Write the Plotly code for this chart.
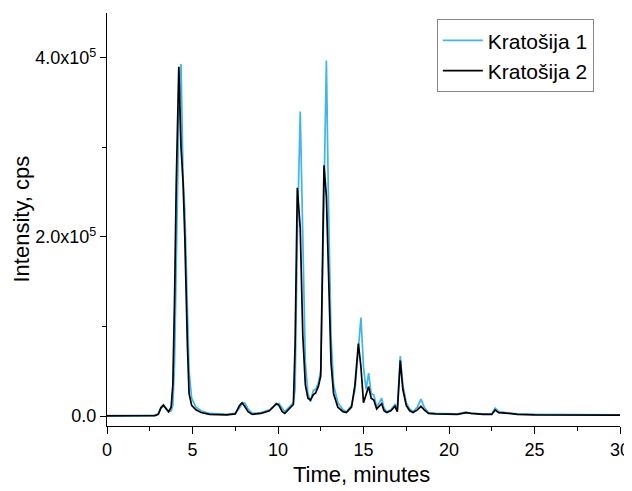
import plotly.graph_objects as go

time_min = [0, 1.0, 2.0, 2.8, 3.0, 3.15, 3.3, 3.45, 3.6, 3.75, 3.85, 3.95, 4.05, 4.2, 4.33,
            4.45, 4.55, 4.7, 4.8, 4.95, 5.2, 5.5, 6.0, 7.0, 7.5, 7.75, 7.9, 8.05, 8.25, 8.5,
            9.0, 9.5, 9.9, 10.05, 10.25, 10.4, 10.6, 10.9, 11.0, 11.13, 11.3, 11.45, 11.6,
            11.75, 11.9, 12.07, 12.2, 12.36, 12.5, 12.6, 12.69, 12.83, 12.95, 13.1, 13.25,
            13.5, 13.8, 14.0, 14.3, 14.5, 14.7, 14.85, 15.0, 15.15, 15.3, 15.45, 15.6, 15.77,
            15.95, 16.06, 16.2, 16.36, 16.6, 16.84, 16.98, 17.15, 17.3, 17.5, 17.7, 17.9,
            18.15, 18.36, 18.55, 18.8, 19.2, 20.0, 20.5, 21.0, 21.3, 22.0, 22.5, 22.7, 22.9,
            23.5, 24.0, 25.0, 26.0, 27.0, 28.0, 29.0, 30.0]

kratosija_1 = [500, 400, 600, 800, 3000, 10000, 13000, 9000, 5000, 6000, 12000, 60000, 170000,
               335000, 393000, 265000, 230000, 130000, 50000, 20000, 10000, 6000, 3000, 2000,
               3000, 9000, 14000, 15000, 8000, 3000, 4000, 7000, 13000, 14000, 8000, 5000,
               9000, 15000, 30000, 200000, 340000, 180000, 60000, 25000, 16000, 29000, 30000,
               37000, 51000, 150000, 260000, 397000, 240000, 90000, 35000, 15000, 7000, 5000,
               12000, 29000, 75000, 110000, 55000, 30000, 48000, 25000, 24000, 10000, 16000,
               20000, 9000, 5000, 7000, 13000, 9000, 67000, 35000, 15000, 8000, 5000, 10000,
               19000, 10000, 4000, 3000, 2500, 2500, 4500, 3000, 2500, 2500, 9000, 5000, 3500,
               2500, 2000, 2000, 1800, 2000, 1800, 1500]

kratosija_2 = [300, 200, 400, 600, 2000, 9000, 12000, 8000, 5000, 10000, 35000, 130000, 260000,
               390000, 300000, 260000, 200000, 80000, 25000, 12000, 7000, 4000, 2000, 1500,
               2500, 12000, 15000, 11000, 5000, 2000, 3000, 6000, 14000, 12000, 5000, 3000,
               7000, 13000, 80000, 255000, 210000, 90000, 35000, 20000, 18000, 24000, 26000,
               33000, 45000, 200000, 280000, 245000, 160000, 60000, 25000, 10000, 5000, 4000,
               10000, 35000, 81000, 55000, 15000, 25000, 33000, 20000, 18000, 8000, 12000,
               14000, 6000, 4000, 6000, 11000, 5000, 62000, 30000, 12000, 6000, 4000, 7000,
               11000, 7000, 3000, 2500, 2000, 2000, 4000, 3000, 2000, 2000, 7000, 4000, 3000,
               2000, 1500, 1500, 1500, 1500, 1200, 1200]

series_names = ["Kratošija 1", "Kratošija 2"]
series_colors = ["#3DB5F0", "#000000"]

y_tickvals = [0, 200000, 400000]
y_ticktext = ["0.0", "2.0x10<sup>5</sup>", "4.0x10<sup>5</sup>"]
x_tickvals = [0, 5, 10, 15, 20, 25, 30]
x_title = "Time, minutes"
y_title = "Intensity, cps"

fig = go.Figure()
for name, vals, col in zip(series_names, [kratosija_1, kratosija_2], series_colors):
    fig.add_trace(go.Scatter(x=time_min, y=vals, mode="lines", name=name,
                             line=dict(color=col, width=1.7)))

font_family = "Liberation Sans, Arial, sans-serif"
fig.update_layout(
    width=624, height=483,
    margin=dict(l=99, r=12, t=5, b=65),
    paper_bgcolor="white", plot_bgcolor="white",
    font=dict(family=font_family, color="black", size=18),
    showlegend=True,
    legend=dict(x=0.643, y=0.985, xanchor="left", yanchor="top",
                bordercolor="#888888", borderwidth=1, bgcolor="white",
                font=dict(size=21), tracegroupgap=0, itemwidth=40),
    xaxis=dict(range=[0, 30], tickvals=x_tickvals, showgrid=False, zeroline=False,
               automargin=False,
               showline=True, linecolor="black", linewidth=1.2,
               ticks="outside", ticklen=7, tickwidth=1.2, tickcolor="black",
               minor=dict(ticks="outside", ticklen=4, tickwidth=1.2, tickcolor="black", dtick=2.5,
                          showgrid=False),
               tickfont=dict(size=18)),
    yaxis=dict(range=[-11000, 450000], tickvals=y_tickvals, ticktext=y_ticktext,
               showgrid=False, zeroline=False, automargin=False,
               showline=True, linecolor="black", linewidth=1.2,
               ticks="outside", ticklen=6, tickwidth=1.2, tickcolor="black",
               minor=dict(ticks="outside", ticklen=4, tickwidth=1.2, tickcolor="black",
                          tickvals=[100000, 300000], showgrid=False),
               tickfont=dict(size=18)),
    annotations=[
        dict(text=x_title, xref="paper", yref="paper", x=0.497, y=-0.1186,
             xanchor="center", yanchor="middle", showarrow=False, font=dict(size=22)),
        dict(text=y_title, xref="paper", yref="paper", x=-0.1676, y=0.5,
             xanchor="center", yanchor="middle", showarrow=False, textangle=-90,
             font=dict(size=22)),
    ],
)

fig.write_html("out.html")
